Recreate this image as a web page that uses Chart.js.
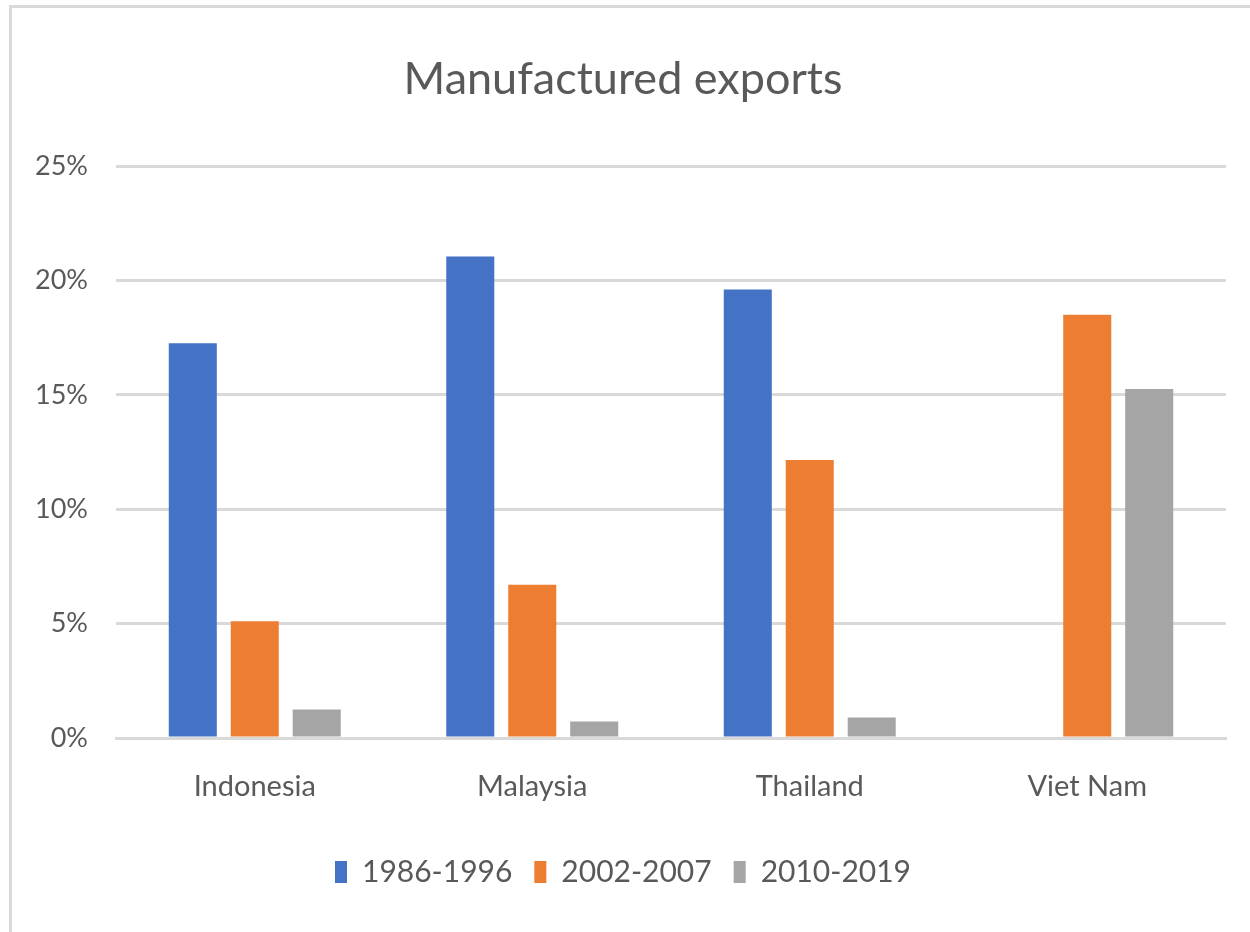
<!DOCTYPE html>
<html>
<head>
<meta charset="utf-8">
<script src="https://cdn.jsdelivr.net/npm/chart.js@4"></script>
<style>
  html, body { margin: 0; padding: 0; background: #fff; }
  #wrap { position: relative; width: 1250px; height: 932px; }
  #frame { position: absolute; left: 9px; top: 5px; right: 0; bottom: 0;
           border-left: 3px solid #d9d9d9; border-top: 3px solid #d9d9d9; }
  canvas { position: absolute; left: 0; top: 0; }
</style>
</head>
<body>
<div id="wrap">
  <div id="frame"></div>
  <canvas id="chart" width="1250" height="932"></canvas>
</div>
<script>
// données (%)
const countries = ['Indonesia', 'Malaysia', 'Thailand', 'Viet Nam'];
const periods = ['1986-1996', '2002-2007', '2010-2019'];
const p1986 = [17.25, 21.05, 19.6, null];
const p2002 = [5.1, 6.7, 12.15, 18.5];
const p2010 = [1.25, 0.72, 0.9, 15.25];
const yTicks = [0, 5, 10, 15, 20, 25];

const colors = ['#4472C4', '#ED7D31', '#A5A5A5'];
const txt = '#595959';
const grid = '#d9d9d9';
const fam = 'Lato, "Open Sans", sans-serif';

Chart.defaults.font.family = fam;
Chart.defaults.color = txt;

new Chart(document.getElementById('chart'), {
  type: 'bar',
  data: {
    labels: countries,
    datasets: [p1986, p2002, p2010].map((d, i) => ({
      label: periods[i],
      data: d,
      backgroundColor: colors[i],
      borderWidth: 0,
      categoryPercentage: 0.67,
      barPercentage: 0.775
    }))
  },
  options: {
    responsive: false,
    animation: false,
    layout: { padding: { left: 20, right: 24, top: 0, bottom: 35 } },
    plugins: {
      title: {
        display: true,
        text: 'Manufactured exports',
        color: txt,
        font: { size: 45, weight: 'normal' },
        padding: { top: 52, bottom: 60 }
      },
      legend: {
        position: 'bottom',
        labels: {
          color: txt,
          font: { size: 30 },
          boxWidth: 12,
          boxHeight: 22,
          padding: 22
        }
      },
      tooltip: { enabled: false }
    },
    scales: {
      x: {
        grid: { display: false, drawTicks: false },
        border: { display: true, color: grid, width: 3 },
        ticks: { color: txt, font: { size: 29 }, padding: 31 },
        afterFit: (a) => { a.height = 97; }
      },
      y: {
        min: 0,
        max: 25,
        afterBuildTicks: (a) => { a.ticks = yTicks.map(v => ({ value: v })); },
        grid: { color: grid, lineWidth: 3, drawTicks: false },
        border: { display: false },
        ticks: { color: txt, font: { size: 27 }, padding: 28, callback: (v) => v + '%' },
        afterFit: (a) => { a.width = 96; }
      }
    }
  }
});
</script>
</body>
</html>
